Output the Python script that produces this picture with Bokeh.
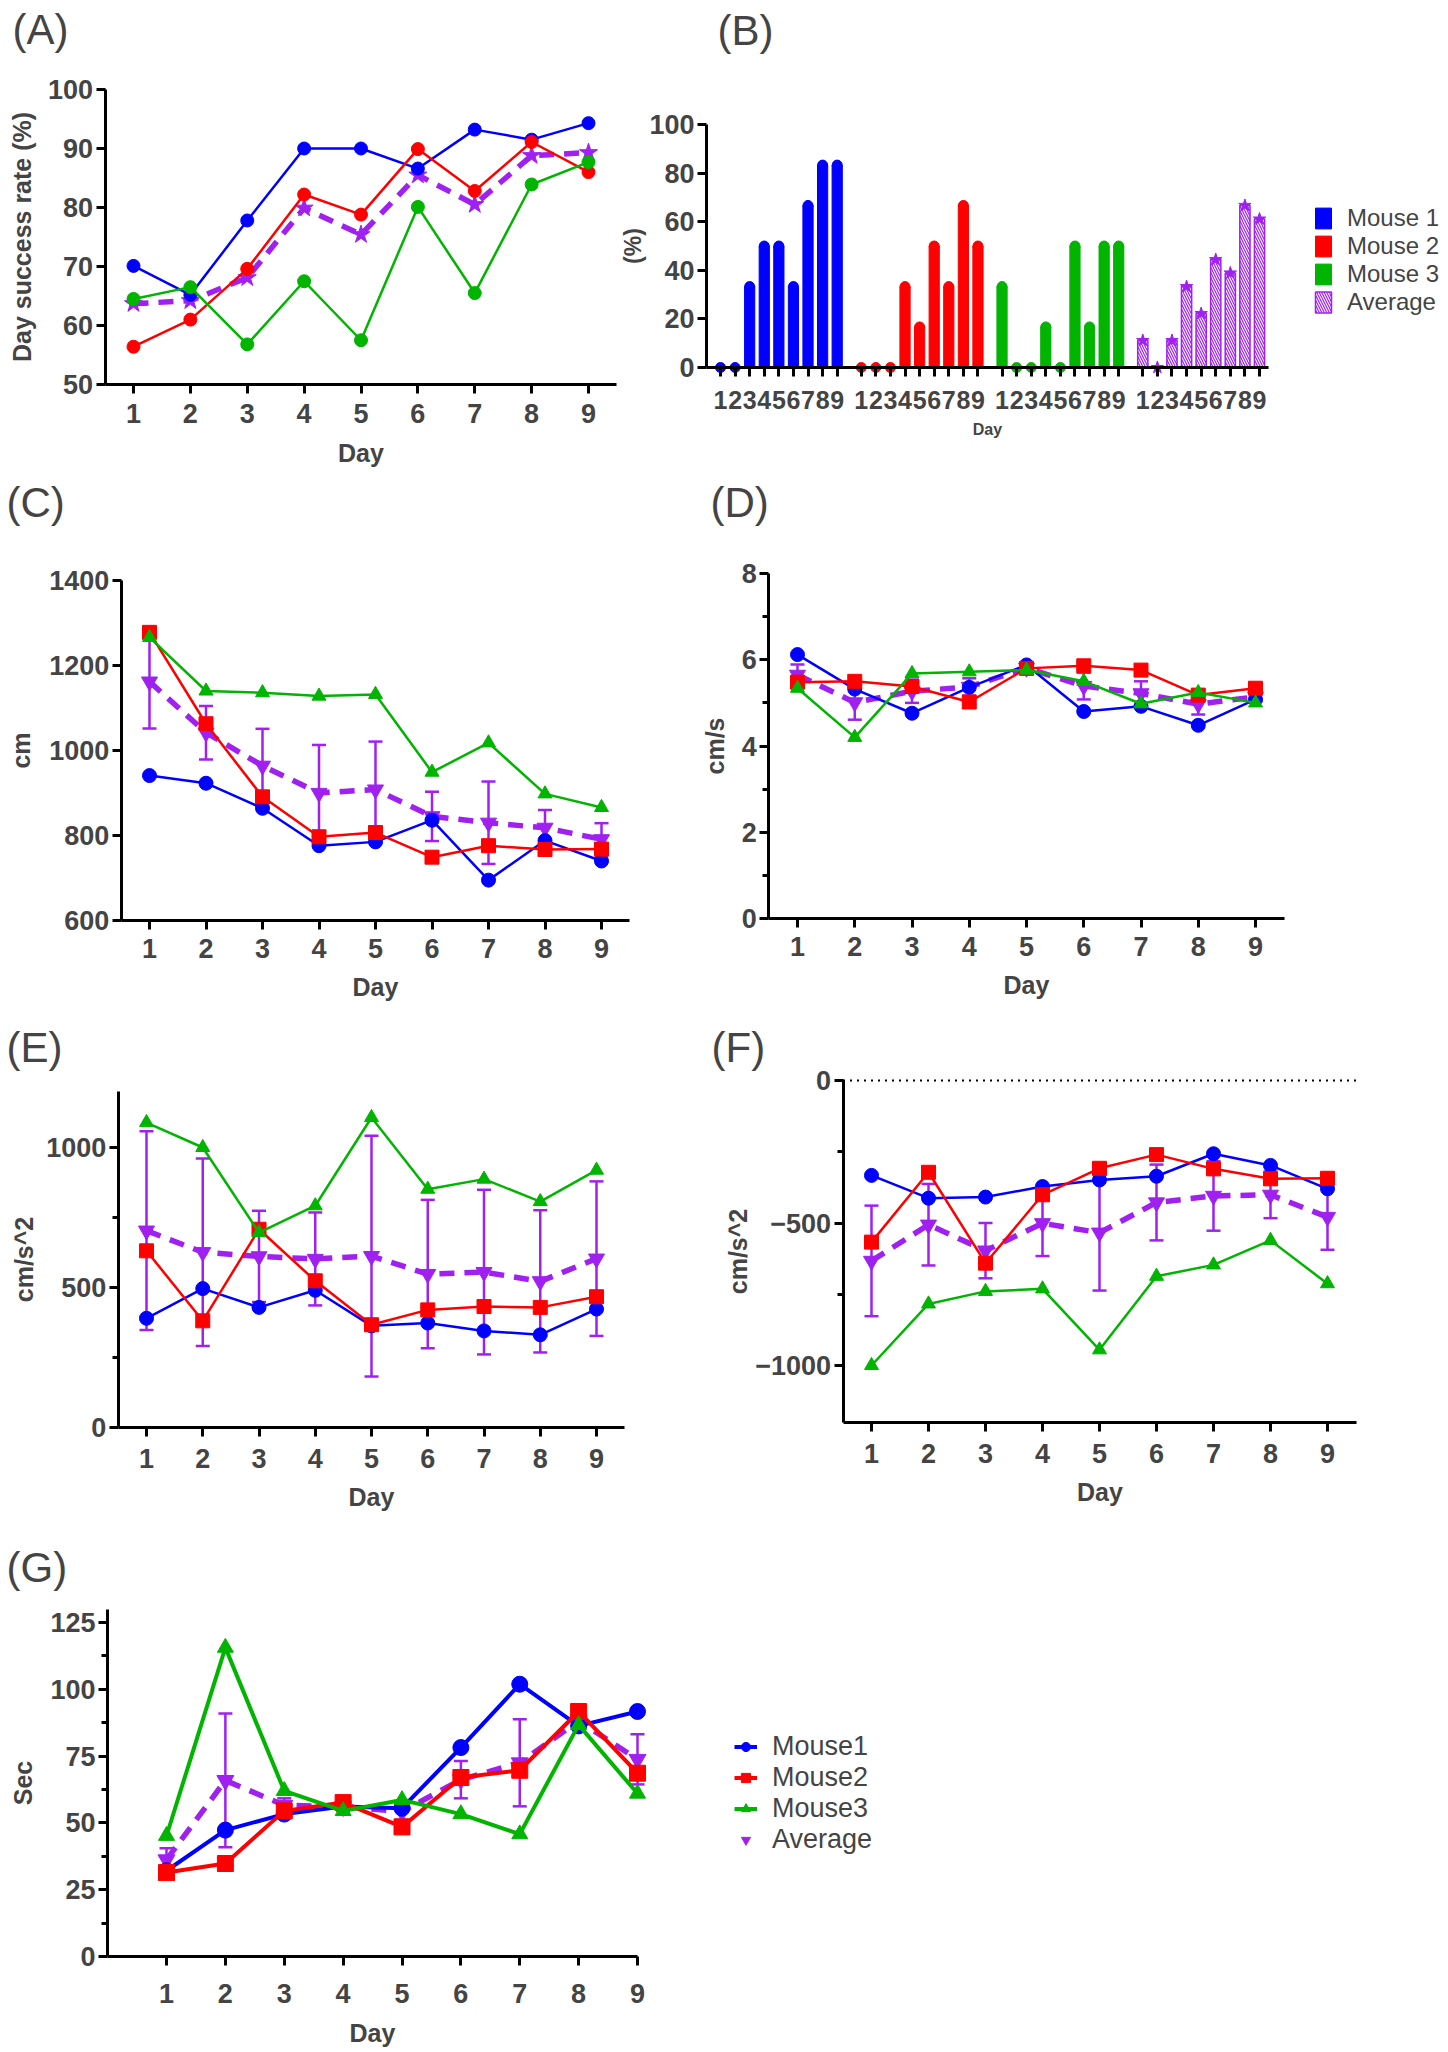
from bokeh.plotting import figure
from bokeh.models import (ColumnDataSource, Range1d, FixedTicker, Whisker,
                          TeeHead, Legend, LegendItem, Label)
from bokeh.layouts import column, row
from bokeh.embed import file_html
from bokeh.resources import INLINE

BLUE = "#0000FF"
RED = "#FF0000"
GREEN = "#00B400"
PURPLE = "#A020F0"

days = [1, 2, 3, 4, 5, 6, 7, 8, 9]

# (A) day success rate (%)
rate_m1 = [70.1, 65.2, 77.8, 90.0, 90.0, 86.6, 93.2, 91.5, 94.3]
rate_m2 = [56.4, 61.0, 69.6, 82.2, 78.8, 89.9, 82.8, 91.1, 86.0]
rate_m3 = [64.5, 66.5, 56.8, 67.5, 57.5, 80.1, 65.5, 83.9, 87.7]
rate_avg = [63.7, 64.2, 68.1, 79.9, 75.4, 85.5, 80.5, 88.8, 89.3]

# (B) per-day percentage
pct_m1 = [0, 0, 33.3, 50, 50, 33.3, 66.7, 83.3, 83.3]
pct_m2 = [0, 0, 0, 33.3, 16.7, 50, 33.3, 66.7, 50]
pct_m3 = [33.3, 0, 0, 16.7, 0, 50, 16.7, 50, 50]
pct_avg = [11.1, 0, 11.1, 33.3, 22.2, 44.4, 38.9, 66.7, 61.1]
b_labels = ["Mouse 1", "Mouse 2", "Mouse 3", "Average"]

# (C) distance, cm
dist_m1 = [941, 923, 864, 776, 785, 836, 695, 788, 740]
dist_m2 = [1278, 1063, 891, 797, 807, 749, 776, 767, 768]
dist_m3 = [1266, 1140, 1136, 1128, 1132, 949, 1018, 898, 866]
dist_avg = [1162, 1042, 964, 900, 908, 845, 830, 818, 791]
dist_err = [110, 63, 87, 113, 113, 58, 97, 42, 38]

# (D) speed, cm/s
speed_m1 = [6.12, 5.32, 4.76, 5.36, 5.88, 4.80, 4.92, 4.48, 5.08]
speed_m2 = [5.48, 5.50, 5.38, 5.02, 5.80, 5.86, 5.76, 5.18, 5.34]
speed_m3 = [5.34, 4.20, 5.68, 5.72, 5.76, 5.50, 4.98, 5.24, 5.00]
speed_avg = [5.65, 5.01, 5.27, 5.37, 5.81, 5.39, 5.22, 4.97, 5.14]
speed_err = [0.24, 0.40, 0.27, 0.20, 0.03, 0.31, 0.28, 0.24, 0.10]

# (E) acceleration, cm/s^2
acc_m1 = [390, 496, 429, 490, 363, 373, 345, 331, 423]
acc_m2 = [631, 381, 708, 524, 367, 420, 432, 429, 467]
acc_m3 = [1089, 1000, 696, 792, 1107, 851, 887, 807, 919]
acc_avg = [703, 626, 611, 602, 612, 548, 555, 522, 603]
acc_err = [355, 335, 163, 166, 430, 265, 294, 254, 276]

# (F) deceleration, cm/s^2
dec_m1 = [-333, -413, -409, -372, -349, -336, -257, -298, -380]
dec_m2 = [-567, -322, -641, -401, -308, -260, -310, -345, -343]
dec_m3 = [-1000, -784, -740, -731, -945, -687, -647, -561, -713]
dec_avg = [-633, -506, -597, -501, -534, -428, -405, -401, -479]
dec_err = [194, 143, 97, 115, 203, 133, 122, 82, 115]

# (G) time, sec
time_m1 = [32.1, 47.3, 53.3, 56.1, 55.5, 78.2, 101.9, 86.3, 91.7]
time_m2 = [31.4, 34.8, 54.5, 57.6, 48.5, 67.0, 69.7, 91.7, 68.6]
time_m3 = [45.2, 115.6, 62.0, 54.5, 58.6, 53.3, 45.8, 86.7, 61.0]
time_avg = [36.2, 65.9, 56.6, 56.1, 54.2, 66.2, 72.5, 88.2, 73.8]
time_err = [4.3, 25.0, 2.6, 1.0, 3.0, 7.0, 16.3, 1.6, 9.4]
g_labels = ["Mouse1", "Mouse2", "Mouse3", "Average"]

MARKS = ["circle", "square", "triangle", "inverted_triangle"]


def fit_range(v1, p1, v2, p2, size):
    # range that puts value v1 at pixel p1 and v2 at pixel p2 on a canvas of `size` px
    k = (v2 - v1) / (p2 - p1)
    return (v1 - p1 * k, v1 + (size - p1) * k)


def make_fig(w, h, xmap, ymap, xb, yb, yticks, yminor, ylabel, letter, lpos,
             stand, xticks=days):
    # xmap/ymap: two (value, pixel) anchors, pixels from the left / top of the figure
    (xv1, xp1), (xv2, xp2) = xmap
    (yv1, yp1), (yv2, yp2) = ymap
    p = figure(width=w, height=h,
               x_range=Range1d(*fit_range(xv1, xp1, xv2, xp2, w)),
               y_range=Range1d(*fit_range(yv1, h - yp1, yv2, h - yp2, h)),
               output_backend="svg", toolbar_location=None, min_border=0)
    p.outline_line_color = None
    p.grid.visible = False
    p.xaxis.fixed_location = yb[0]
    p.yaxis.fixed_location = xb[0]
    p.xaxis.bounds = xb
    p.yaxis.bounds = yb
    p.xaxis.ticker = FixedTicker(ticks=xticks)
    p.yaxis.ticker = FixedTicker(ticks=yticks, minor_ticks=yminor)
    p.xaxis.axis_label = "Day"
    p.yaxis.axis_label = ylabel
    for ax in p.xaxis + p.yaxis:
        ax.axis_line_width = 3
        ax.major_tick_line_width = 3
        ax.major_tick_out = 9
        ax.major_tick_in = 0
        ax.minor_tick_line_width = 3
        ax.minor_tick_out = 6
        ax.minor_tick_in = 0
        ax.major_label_text_font = "Liberation Sans"
        ax.major_label_text_font_style = "bold"
        ax.major_label_text_font_size = "27px"
        ax.major_label_standoff = 3
        ax.axis_label_text_font = "Liberation Sans"
        ax.axis_label_text_font_style = "bold"
        ax.axis_label_text_font_size = "25px"
    p.xaxis.major_label_standoff = stand[0]
    p.xaxis.axis_label_standoff = stand[1]
    p.yaxis.axis_label_standoff = stand[2]
    p.add_layout(Label(x=lpos[0], y=h - lpos[1], x_units="screen", y_units="screen",
                       text=letter, text_font="Liberation Sans", text_font_size="42px",
                       text_baseline="middle", text_align="left"))
    return p


def add_errors(p, avg, err):
    src = ColumnDataSource(data=dict(x=days,
                                     upper=[a + e for a, e in zip(avg, err)],
                                     lower=[a - e for a, e in zip(avg, err)]))
    p.add_layout(Whisker(source=src, base="x", upper="upper", lower="lower",
                         line_color=PURPLE, line_width=2.5,
                         upper_head=TeeHead(size=14, line_color=PURPLE, line_width=2.5),
                         lower_head=TeeHead(size=14, line_color=PURPLE, line_width=2.5)))


def add_series(p, m1, m2, m3, avg, markers, size=14, lw=2.5, avg_size=16):
    p.line(days, avg, line_color=PURPLE, line_width=5.5, line_dash="15 10")
    ra = p.scatter(days, avg, marker=markers[3], size=avg_size, color=PURPLE)
    out = []
    for vals, c, mk in [(m1, BLUE, markers[0]), (m2, RED, markers[1]), (m3, GREEN, markers[2])]:
        ln = p.line(days, vals, line_color=c, line_width=lw)
        sc = p.scatter(days, vals, marker=mk, size=size, color=c)
        out.append((ln, sc))
    return out, ra


# ---- (A)  page x 0-620, y 0-470
pA = make_fig(620, 470, [(1, 133), (9, 588)], [(100, 89), (50, 384)],
              (0.5, 9.5), (50, 100), [50, 60, 70, 80, 90, 100], [],
              "Day success rate (%)", "(A)", (12, 29), (10, 13, 9))
add_series(pA, rate_m1, rate_m2, rate_m3, rate_avg,
           ["circle", "circle", "circle", "star"], size=13, avg_size=19)

# ---- (B)  page x 620-1448, y 0-470
bar_x = [g * 965 + d * 100 for g in range(4) for d in days]
pB = make_fig(828, 470, [(100, 100), (3795, 639)], [(100, 124), (0, 367)],
              (4, 3857), (0, 100), [0, 20, 40, 60, 80, 100], [],
              "(%)", "(B)", (97, 30), (14, 9, 0), xticks=bar_x)
pB.xaxis.major_label_overrides = {x: str(d) for x, d in zip(bar_x, days * 4)}
pB.xaxis.major_label_text_font_size = "25px"
pB.xaxis.axis_label_text_font_size = "16px"
pB.yaxis.axis_label_text_font_size = "23px"
pB.yaxis.axis_label_text_line_height = 1.0
b_items = []
for g, (vals, c) in enumerate([(pct_m1, BLUE), (pct_m2, RED), (pct_m3, GREEN)]):
    xs = bar_x[g * 9:(g + 1) * 9]
    vb = pB.vbar(x=xs, top=vals, width=70, fill_color=c, line_color=c)
    pB.scatter(xs, vals, marker="circle", size=10, color=c)
    b_items.append(LegendItem(label=b_labels[g], renderers=[vb]))
xs = bar_x[27:]
vb = pB.vbar(x=xs, top=pct_avg, width=70, fill_color="white", line_color=PURPLE,
             line_width=1.5, hatch_pattern="\\", hatch_color=PURPLE,
             hatch_scale=5, hatch_weight=1.2)
pB.scatter(xs, pct_avg, marker="star", size=13, color=PURPLE)
b_items.append(LegendItem(label=b_labels[3], renderers=[vb]))
legB = Legend(items=b_items, location=(693, 154), border_line_color=None,
              background_fill_alpha=0, padding=0, margin=0, spacing=0,
              glyph_width=20, glyph_height=26, label_height=28, label_standoff=14,
              label_text_font="Liberation Sans", label_text_font_size="24px",
              label_text_line_height=1.0)
pB.add_layout(legB)

# ---- (C)  page x 0-640, y 470-1005
pC = make_fig(640, 535, [(1, 149), (9, 601)], [(1400, 110), (600, 450)],
              (0.5, 9.5), (600, 1400), [600, 800, 1000, 1200, 1400], [],
              "cm", "(C)", (6, 32), (9, 12, 11))
add_errors(pC, dist_avg, dist_err)
add_series(pC, dist_m1, dist_m2, dist_m3, dist_avg, MARKS)

# ---- (D)  page x 640-1448, y 470-1005
pD = make_fig(808, 535, [(1, 157), (9, 615)], [(8, 103), (0, 448)],
              (0.5, 9.5), (0, 8), [0, 2, 4, 6, 8], [1, 3, 5, 7],
              "cm/s", "(D)", (70, 32), (9, 12, 9))
add_errors(pD, speed_avg, speed_err)
add_series(pD, speed_m1, speed_m2, speed_m3, speed_avg, MARKS)

# ---- (E)  page x 0-640, y 1005-1530
pE = make_fig(640, 525, [(1, 146), (9, 596)], [(1000, 142), (0, 422)],
              (0.5, 9.5), (0, 1200), [0, 500, 1000], [250, 750],
              "cm/s^2", "(E)", (6, 42), (12, 12, 5))
add_errors(pE, acc_avg, acc_err)
add_series(pE, acc_m1, acc_m2, acc_m3, acc_avg, MARKS)

# ---- (F)  page x 640-1448, y 1005-1530
pF = make_fig(808, 525, [(1, 231), (9, 687)], [(0, 75), (-1000, 360)],
              (0.5, 9.5), (-1200, 0), [-1000, -500, 0], [-750, -250],
              "cm/s^2", "(F)", (71, 42), (12, 12, 1))
xb_F = (0.5, 9.5)
pF.segment(x0=[xb_F[0]], y0=[0], x1=[xb_F[1]], y1=[0], line_color="black",
           line_width=2, line_dash="2 5")
add_errors(pF, dec_avg, dec_err)
add_series(pF, dec_m1, dec_m2, dec_m3, dec_avg, MARKS)

# ---- (G)  page x 0-900, y 1530-2052
pG = make_fig(900, 522, [(1, 166), (9, 637)], [(125, 92), (0, 426)],
              (0, 9), (0, 130), [0, 25, 50, 75, 100, 125],
              [12.5, 37.5, 62.5, 87.5, 112.5], "Sec", "(G)", (6, 37), (18, 13, 10))
add_errors(pG, time_avg, time_err)
mice, avg_r = add_series(pG, time_m1, time_m2, time_m3, time_avg, MARKS,
                         size=16, lw=4, avg_size=17)
g_items = [LegendItem(label=g_labels[i], renderers=list(mice[i])) for i in range(3)]
g_items.append(LegendItem(label=g_labels[3], renderers=[avg_r]))
legG = Legend(items=g_items, location=(734, 197), border_line_color=None,
              background_fill_alpha=0, padding=0, margin=0, spacing=0,
              glyph_width=23, glyph_height=29, label_height=29, label_standoff=15,
              label_text_font="Liberation Sans", label_text_font_size="27px",
              label_text_line_height=1.0)
pG.add_layout(legG)

p = column(row(pA, pB), row(pC, pD), row(pE, pF), pG)
open("out.html", "w").write(file_html(p, INLINE))
